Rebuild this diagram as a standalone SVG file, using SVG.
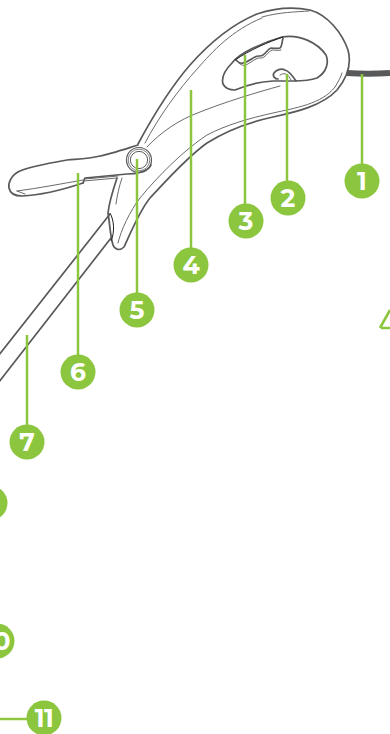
<svg xmlns="http://www.w3.org/2000/svg" width="390" height="734" viewBox="0 0 390 734">
<style>
.o{fill:none;stroke:#58595b;stroke-width:1.7;stroke-linecap:round;stroke-linejoin:round}
.t{fill:none;stroke:#58595b;stroke-width:.9;stroke-linecap:round}
.k{fill:none;stroke:#231f20;stroke-width:1}
.l{fill:none;stroke:#8cc63f;stroke-width:2.5}
.c{fill:#8cc63f}
.n{fill:#fff;font-family:Montserrat,"Open Sans","Liberation Sans",sans-serif;font-weight:700;font-size:25px;text-anchor:middle}
</style>
<g id="device">
<path d="M347 73C360 74 376 74 390 73" fill="none" stroke="#58595b" stroke-width="6"/>
<path class="o" d="M138 144C152 118 170 88 190 65C206 47 228 26 257 14C275 8 295 7 310 10C328 15 342 33 348 50C352 65 347 78 337 90C322 106 296 112 273 117C250 122 226 131 207 143C186 158 167 180 150 198C140 210 131 232 124 247C120 251 115 250 113 245C110 235 110 225 108 213C109 203 113 190 117 178"/>
<path class="t" d="M145 143C158 118 178 90 198 68C212 52 232 30 262 18"/>
<path class="t" d="M262 17C280 12 296 12 309 11"/>
<path class="t" d="M147 147C160 133 178 120 200 112C225 102 258 92 280 86"/>
<path class="t" d="M118 243C121 230 130 211 140 198C158 176 184 150 207 135C226 125 250 118 273 113C295 108 322 104 335 87C338 82 341 77 342 73"/>
<path class="t" d="M122 178C119 187 117 196 116 204"/>
<path class="o" d="M138 145C125 149 110 154 100 156C88 159 78 159 67 160C50 163 32 166 20 171C11 175 8 183 9 188C10 193 14 196 22 196C45 195 65 189 83 183"/>
<path class="t" d="M17 191C40 188 60 184 83 180"/>
<path class="t" d="M17 191L25 194"/>
<path class="o" d="M83 183C84 181 84 179 85 178L127 174C135 174 148 172 151 165"/>
<path class="t" d="M84 181L117 178"/>
<path class="t" d="M85 179L118 176"/>
<circle cx="139" cy="160" r="12.5" fill="none" stroke="#58595b" stroke-width="1.2"/>
<circle cx="139" cy="160" r="10.8" fill="none" stroke="#808285" stroke-width="1"/>
<circle cx="139" cy="160" r="8.6" fill="none" stroke="#58595b" stroke-width="1"/>
<path class="k" d="M110 213C114 220 115 232 111 241"/>
<path class="o" d="M110 214L-1 355"/>
<path class="o" d="M111 238L-1 382"/>
<path class="o" d="M282 37C300 34 318 43 326 55C329 62 327 72 317 78C309 81 300 81 293 81C285 81 280 81 273 81C258 82 246 85 235 90C229 90 225 88 223 84C221 77 226 69 232 63C240 52 265 42 282 37Z"/>
<path class="o" d="M296 81C292 75 289 71 285 70C281 68 276 70 274 73C272 76 275 79 278 79"/>
<path class="o" d="M236 60C238 62 241 64 243 63C248 62 251 59 255 57C258 55 261 57 263 55C266 53 268 49 271 48C274 48 278 49 280 48C282 46 282 42 283 38"/>
<path class="t" d="M237 61C240 65 243 66 246 65C250 63 252 61 256 59C259 57 262 59 264 57C267 55 269 51 272 50C275 50 278 51 281 50"/>
<path class="k" stroke-width="1.3" d="M235 60C250 50 268 42 283 37"/>
<path class="t" d="M280 75C285 72 288 74 291 80"/>
</g>
<g id="connectors">
<path class="l" d="M362 74V166"/>
<path class="l" d="M287 74V185"/>
<path class="l" d="M245 55V208"/>
<path class="l" d="M191 90V250"/>
<path class="l" d="M137 159V295"/>
<path class="l" d="M78 173V358"/>
<path class="l" d="M27 335V426"/>
<path class="l" d="M0 719H28"/>
<path d="M380 328L390 310M381 328H390" fill="none" stroke="#8cc63f" stroke-width="2.6"/>
</g>
<g id="n1"><circle class="c" cx="362" cy="181" r="17.5"/><text class="n" x="362" y="190">1</text></g>
<g id="n2"><circle class="c" cx="288" cy="198" r="17.5"/><text class="n" x="288" y="207">2</text></g>
<g id="n3"><circle class="c" cx="246" cy="221" r="17.5"/><text class="n" x="246" y="230">3</text></g>
<g id="n4"><circle class="c" cx="191" cy="265" r="17.5"/><text class="n" x="191" y="274">4</text></g>
<g id="n5"><circle class="c" cx="137" cy="310" r="17.5"/><text class="n" x="137" y="319">5</text></g>
<g id="n6"><circle class="c" cx="78" cy="372" r="17.5"/><text class="n" x="78" y="381">6</text></g>
<g id="n7"><circle class="c" cx="27" cy="442" r="17.5"/><text class="n" x="27" y="451">7</text></g>
<g id="n8"><circle class="c" cx="-10" cy="503" r="17.5"/></g>
<g id="n10"><circle class="c" cx="-3" cy="641" r="17.5"/><text class="n" x="-3" y="650">10</text></g>
<g id="n11"><circle class="c" cx="44" cy="718" r="17.5"/><text class="n" x="44" y="727" letter-spacing="-.5">11</text></g>
</svg>
